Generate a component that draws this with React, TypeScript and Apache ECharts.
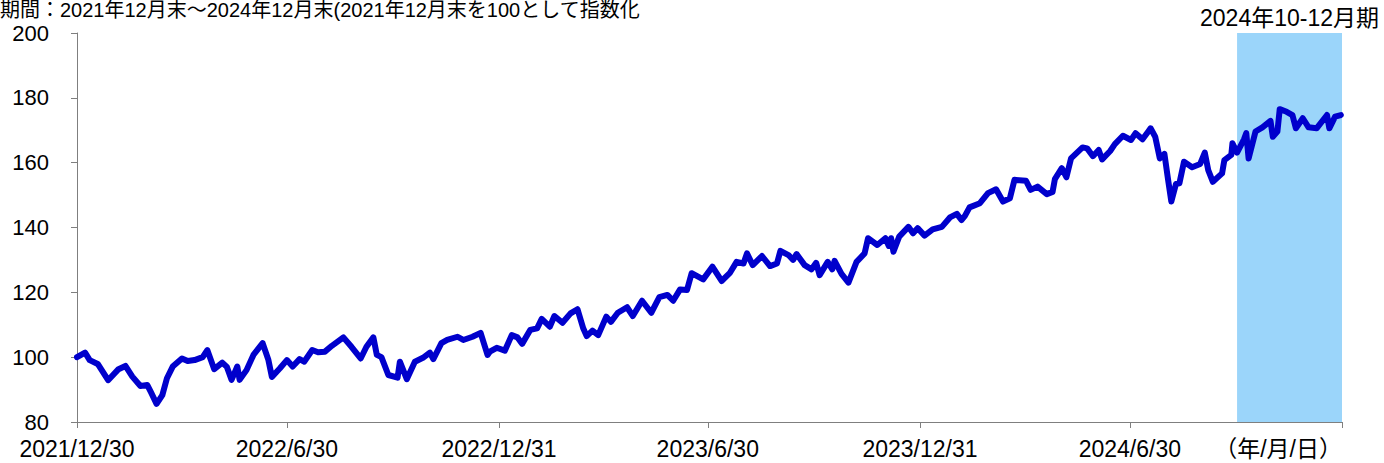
import React, { useEffect, useRef } from "react";
import * as echarts from "echarts";

const titleText = "期間：2021年12月末～2024年12月末(2021年12月末を100として指数化";
const highlightLabel = "2024年10-12月期";
const highlightRange = ["2024-10-01", "2024-12-31"];
const axisRange = ["2021-12-30", "2024-12-31"];
const tickDates = ["2021-12-30", "2022-06-30", "2022-12-31", "2023-06-30", "2023-12-31", "2024-06-30", "2024-12-31"];
const tickLabels = ["2021/12/30", "2022/6/30", "2022/12/31", "2023/6/30", "2023/12/31", "2024/6/30", "（年/月/日）"];
const yTicks = { min: 80, max: 200, interval: 20 };

const dates = [
  "2021-12-30", "2022-01-06", "2022-01-10", "2022-01-17", "2022-01-26", "2022-02-04", "2022-02-10", "2022-02-16",
  "2022-02-23", "2022-03-01", "2022-03-04", "2022-03-09", "2022-03-14", "2022-03-18", "2022-03-23", "2022-03-31",
  "2022-04-05", "2022-04-11", "2022-04-18", "2022-04-22", "2022-04-28", "2022-05-05", "2022-05-09", "2022-05-13",
  "2022-05-18", "2022-05-20", "2022-05-26", "2022-06-01", "2022-06-09", "2022-06-14", "2022-06-17", "2022-06-24",
  "2022-06-30", "2022-07-05", "2022-07-11", "2022-07-15", "2022-07-22", "2022-07-27", "2022-08-02", "2022-08-08",
  "2022-08-18", "2022-08-25", "2022-09-02", "2022-09-07", "2022-09-13", "2022-09-16", "2022-09-20", "2022-09-26",
  "2022-10-04", "2022-10-06", "2022-10-12", "2022-10-19", "2022-10-26", "2022-11-01", "2022-11-04", "2022-11-11",
  "2022-11-16", "2022-11-25", "2022-11-30", "2022-12-08", "2022-12-15", "2022-12-21", "2022-12-23", "2022-12-29",
  "2023-01-05", "2023-01-11", "2023-01-16", "2023-01-20", "2023-01-27", "2023-02-02", "2023-02-06", "2023-02-13",
  "2023-02-17", "2023-02-24", "2023-03-03", "2023-03-09", "2023-03-14", "2023-03-17", "2023-03-22", "2023-03-27",
  "2023-04-03", "2023-04-07", "2023-04-13", "2023-04-21", "2023-04-26", "2023-05-04", "2023-05-12", "2023-05-19",
  "2023-05-26", "2023-05-31", "2023-06-06", "2023-06-12", "2023-06-16", "2023-06-26", "2023-07-04", "2023-07-12",
  "2023-07-19", "2023-07-25", "2023-07-31", "2023-08-03", "2023-08-08", "2023-08-16", "2023-08-23", "2023-08-29",
  "2023-09-01", "2023-09-08", "2023-09-12", "2023-09-15", "2023-09-22", "2023-09-28", "2023-10-02", "2023-10-05",
  "2023-10-12", "2023-10-16", "2023-10-18", "2023-10-24", "2023-10-30", "2023-11-06", "2023-11-13", "2023-11-16",
  "2023-11-24", "2023-12-01", "2023-12-04", "2023-12-06", "2023-12-08", "2023-12-13", "2023-12-21", "2023-12-25",
  "2023-12-29", "2024-01-04", "2024-01-11", "2024-01-19", "2024-01-26", "2024-02-01", "2024-02-05", "2024-02-08",
  "2024-02-12", "2024-02-21", "2024-02-28", "2024-03-06", "2024-03-12", "2024-03-18", "2024-03-22", "2024-04-01",
  "2024-04-05", "2024-04-11", "2024-04-19", "2024-04-24", "2024-04-26", "2024-05-02", "2024-05-06", "2024-05-10",
  "2024-05-20", "2024-05-24", "2024-05-29", "2024-06-03", "2024-06-06", "2024-06-13", "2024-06-17", "2024-06-24",
  "2024-07-01", "2024-07-05", "2024-07-11", "2024-07-16", "2024-07-18", "2024-07-22", "2024-07-26", "2024-07-30",
  "2024-08-02", "2024-08-05", "2024-08-09", "2024-08-12", "2024-08-16", "2024-08-23", "2024-08-30", "2024-09-03",
  "2024-09-06", "2024-09-10", "2024-09-18", "2024-09-20", "2024-09-26", "2024-09-27", "2024-10-01", "2024-10-07",
  "2024-10-09", "2024-10-11", "2024-10-17", "2024-10-23", "2024-10-30", "2024-11-01", "2024-11-05", "2024-11-07",
  "2024-11-13", "2024-11-18", "2024-11-21", "2024-11-27", "2024-12-02", "2024-12-09", "2024-12-18", "2024-12-20",
  "2024-12-25", "2024-12-30",
];

const indexValues = [
  100.0, 101.4, 99.1, 97.9, 92.9, 96.3, 97.3, 94.0,
  91.1, 91.4, 89.3, 85.6, 88.3, 93.5, 97.1, 99.6,
  98.8, 99.1, 100.0, 102.2, 96.3, 98.3, 97.0, 93.0,
  97.1, 93.0, 96.0, 100.7, 104.3, 99.1, 93.9, 96.6,
  99.1, 97.1, 99.4, 98.6, 102.2, 101.5, 101.7, 103.5,
  106.1, 103.2, 99.6, 103.2, 106.1, 100.7, 100.0, 94.5,
  93.7, 98.6, 93.2, 98.6, 99.8, 101.4, 99.4, 104.3,
  105.3, 106.3, 105.3, 106.3, 107.5, 100.7, 101.7, 102.9,
  102.0, 106.8, 106.1, 104.1, 108.4, 108.9, 111.8, 109.4,
  112.7, 110.6, 113.5, 114.8, 108.9, 106.5, 108.2, 106.8,
  112.5, 110.9, 113.7, 115.4, 112.7, 117.4, 113.7, 118.5,
  119.2, 117.4, 120.9, 120.7, 125.9, 124.0, 127.9, 123.5,
  125.9, 129.4, 128.9, 132.0, 128.4, 131.2, 128.1, 128.9,
  132.8, 131.5, 130.0, 131.8, 128.4, 127.1, 129.1, 125.3,
  129.4, 127.1, 129.7, 125.7, 123.0, 129.4, 132.0, 136.7,
  134.6, 136.7, 134.3, 136.7, 132.5, 137.2, 140.2, 138.2,
  139.8, 137.5, 139.4, 140.2, 143.1, 144.2, 142.3, 143.6,
  146.2, 147.5, 150.6, 151.8, 148.0, 149.0, 154.7, 154.4,
  151.6, 152.6, 150.3, 151.0, 154.9, 158.3, 155.5, 161.3,
  164.7, 164.4, 162.0, 163.9, 161.0, 163.6, 165.7, 168.3,
  167.0, 169.1, 167.2, 169.6, 170.6, 168.0, 161.3, 162.7,
  155.2, 148.0, 153.4, 153.6, 160.3, 158.6, 159.6, 163.1,
  157.7, 154.1, 156.7, 160.8, 162.4, 166.0, 163.1, 167.2,
  169.1, 161.3, 169.6, 170.9, 172.9, 168.0, 169.6, 176.5,
  175.7, 174.7, 170.6, 173.7, 170.9, 170.6, 174.7, 170.6,
  174.2, 174.7,
];

const toTs = (s: string) => {
  const [y, m, d] = s.split("-").map(Number);
  return Date.UTC(y, m - 1, d);
};

const FONT = '"Liberation Sans", Arial, "Noto Sans CJK JP", sans-serif';

export default function App() {
  const ref = useRef<HTMLDivElement>(null);

  useEffect(() => {
    if (!ref.current) return;
    const chart = echarts.init(ref.current, null, { renderer: "svg" });
    const tickTimes = tickDates.map(toTs);
    const seriesData = dates.map((d, i) => [toTs(d), indexValues[i]]);

    chart.setOption({
      animation: false,
      backgroundColor: "#ffffff",
      textStyle: { fontFamily: FONT },
      grid: { left: 77, right: 42, top: 33, bottom: 41, containLabel: false },
      graphic: [
        {
          type: "text",
          x: 0,
          y: 0,
          style: {
            text: titleText,
            fill: "#000000",
            font: `20px ${FONT}`,
            verticalAlign: "top",
          },
        },
      ],
      xAxis: {
        type: "value",
        min: toTs(axisRange[0]),
        max: toTs(axisRange[1]),
        axisLine: { show: true, onZero: false, lineStyle: { color: "#7f7f7f", width: 1 } },
        axisTick: {
          show: true,
          inside: false,
          length: 6,
          customValues: tickTimes,
          lineStyle: { color: "#7f7f7f", width: 1 },
        },
        axisLabel: {
          show: true,
          customValues: tickTimes,
          color: "#000000",
          fontSize: 23,
          fontFamily: FONT,
          margin: 15,
          hideOverlap: false,
          showMinLabel: true,
          showMaxLabel: true,
          alignMaxLabel: "right",
          formatter: (value: number) => {
            const idx = tickTimes.indexOf(value);
            return idx >= 0 ? tickLabels[idx] : "";
          },
        },
        splitLine: { show: false },
        minorTick: { show: false },
      },
      yAxis: {
        type: "value",
        min: yTicks.min,
        max: yTicks.max,
        interval: yTicks.interval,
        axisLine: { show: true, lineStyle: { color: "#7f7f7f", width: 1 } },
        axisTick: { show: true, inside: false, length: 6, lineStyle: { color: "#7f7f7f", width: 1 } },
        axisLabel: { color: "#000000", fontSize: 22, fontFamily: FONT, margin: 28 },
        splitLine: { show: false },
      },
      series: [
        {
          type: "line",
          data: seriesData,
          showSymbol: false,
          symbol: "none",
          lineStyle: { color: "#0000cc", width: 6, join: "round", cap: "round" },
          z: 5,
          markArea: {
            silent: true,
            itemStyle: { color: "#9bd5fa", opacity: 1 },
            label: {
              show: true,
              position: "top",
              distance: 4,
              formatter: highlightLabel,
              color: "#000000",
              fontSize: 23,
              fontFamily: FONT,
            },
            data: [[{ xAxis: toTs(highlightRange[0]) }, { xAxis: toTs(highlightRange[1]) }]],
          },
        },
      ],
    });

    return () => chart.dispose();
  }, []);

  return (
    <div
      ref={ref}
      style={{ position: "fixed", left: 0, top: 0, width: 1384, height: 463, background: "#fff" }}
    />
  );
}
